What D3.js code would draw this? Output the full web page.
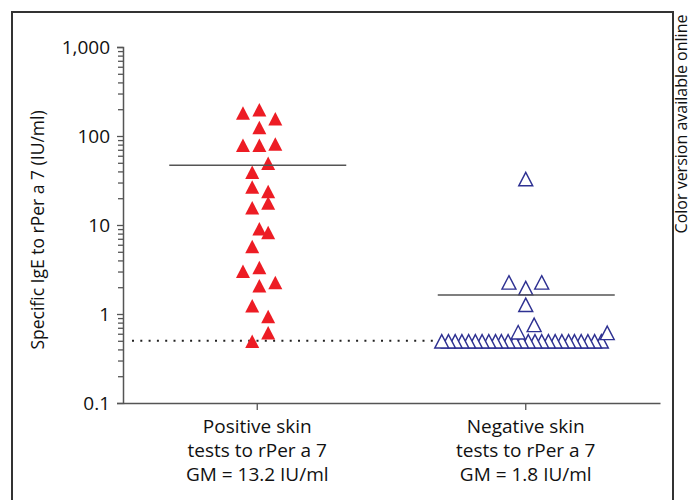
<!DOCTYPE html>
<html>
<head>
<meta charset="utf-8">
<script src="https://cdn.jsdelivr.net/npm/d3@7"></script>
<style>
  body { margin: 0; background: #fff; }
  svg text { font-family: "Open Sans", "Noto Sans", sans-serif; fill: #111; }
</style>
</head>
<body>
<div id="chart"></div>
<script>
var width = 691, height = 500;

// groups on the x axis, with their label lines
var categories = ["pos", "neg"];
var catLabels = {
    pos: ["Positive skin", "tests to rPer a 7", "GM = 13.2 IU/ml"],
    neg: ["Negative skin", "tests to rPer a 7", "GM = 1.8 IU/ml"]
};

// specific IgE (IU/ml), with a jitter slot for each point
var posValues = [180, 196, 155, 124, 78, 78, 81, 49, 39, 26.5, 23.7, 17.5, 15.5, 9.0, 8.2, 5.7, 3.0, 3.3, 2.06, 2.25, 1.23, 0.93, 0.61, 0.49];
var posJitter = [-1.7, 0.25, 2.15, 0.25, -1.7, 0.25, 2.15, 1.3, -0.6, -0.6, 1.3, 1.3, -0.6, 0.25, 1.3, -0.6, -1.7, 0.25, 0.25, 2.15, -0.6, 1.3, 1.3, -0.6];

var negValues = [32.6, 2.25, 2.25, 1.94, 1.26, 0.75, 0.62, 0.61,
    0.49, 0.49, 0.49, 0.49, 0.49, 0.49, 0.49, 0.49, 0.49, 0.49, 0.49, 0.49, 0.49,
    0.49, 0.49, 0.49, 0.49, 0.49, 0.49, 0.49, 0.49, 0.49, 0.49, 0.49, 0.49];
var negJitter = [0, -2.0, 1.9, 0, 0, 1.0, -0.9, 9.7,
    -10, -9.2, -8.4, -7.6, -6.8, -6, -5.2, -4.4, -3.6, -2.9, -2.1, -1.3, -0.5,
    0.3, 1.1, 1.9, 2.7, 3.5, 4.3, 5.1, 5.8, 6.6, 7.4, 8.2, 9.0];

// geometric mean lines as drawn, and the detection cut-off
var gmLines = [47, 1.63];
var cutoff = 0.5;

var yMajor = [0.1, 1, 10, 100, 1000];
var yTickLabels = ["0.1", "1", "10", "100", "1,000"];

var svg = d3.select("#chart").append("svg")
    .attr("width", width)
    .attr("height", height);

// frame round the figure
svg.append("path")
    .attr("d", "M12,500V12H673V500")
    .attr("fill", "none")
    .attr("stroke", "#333")
    .attr("stroke-width", 2);

var x = d3.scaleBand().domain(categories).range([123, 660]).padding(0);
var y = d3.scaleLog().domain([0.1, 1000]).range([403, 47]);
var jx = d3.scaleLinear().domain([-1, 1]).range([-8.4, 8.4]);
var cx = function(c) { return x(c) + x.bandwidth() / 2; };

var minor = [];
yMajor.slice(0, -1).forEach(function(d) {
    for (var k = 2; k < 10; k++) minor.push(d * k);
});

// y axis
var yAxis = svg.append("g")
    .attr("transform", "translate(123,0)")
    .call(d3.axisLeft(y).tickValues(yMajor).tickSize(6).tickPadding(7)
        .tickFormat(function(d, i) { return yTickLabels[i]; }));
yAxis.select(".domain").attr("stroke", "#555").attr("stroke-width", 1.5);
yAxis.selectAll(".tick line").attr("stroke", "#555").attr("stroke-width", 1.3);
yAxis.selectAll(".tick text").style("font-size", "19px").attr("fill", "#111");

var yMinor = svg.append("g")
    .attr("transform", "translate(123,0)")
    .call(d3.axisLeft(y).tickValues(minor).tickSize(5).tickFormat(""));
yMinor.select(".domain").remove();
yMinor.selectAll(".tick line").attr("stroke", "#555").attr("stroke-width", 1.3);

// x axis
var xAxis = svg.append("g")
    .attr("transform", "translate(0,403)")
    .call(d3.axisBottom(x).tickSize(7).tickSizeOuter(0).tickFormat(""));
xAxis.select(".domain").attr("stroke", "#555").attr("stroke-width", 1.5);
xAxis.selectAll(".tick line").attr("stroke", "#555").attr("stroke-width", 1.3);

categories.forEach(function(c) {
    var t = svg.append("text")
        .attr("text-anchor", "middle")
        .style("font-size", "19px");
    catLabels[c].forEach(function(line, i) {
        t.append("tspan").attr("x", cx(c)).attr("y", 433 + i * 24).text(line);
    });
});

svg.append("text")
    .attr("transform", "translate(44,230) rotate(-90)")
    .attr("text-anchor", "middle")
    .style("font-size", "17.5px")
    .text("Specific IgE to rPer a 7 (IU/ml)");

svg.append("text")
    .attr("transform", "translate(686.5,124) rotate(-90)")
    .attr("text-anchor", "middle")
    .style("font-size", "16px")
    .text("Color version available online");

// detection limit
svg.append("line")
    .attr("x1", 132).attr("x2", 604)
    .attr("y1", y(cutoff)).attr("y2", y(cutoff))
    .attr("stroke", "#222")
    .attr("stroke-width", 2)
    .attr("stroke-dasharray", "2,6.3");

var tri = "M0,-7L7,6.5L-7,6.5Z";

var pos = posValues.map(function(v, i) { return { v: v, j: posJitter[i] }; });
var neg = negValues.map(function(v, i) { return { v: v, j: negJitter[i] }; });

svg.selectAll(".pos")
    .data(pos)
    .enter().append("path")
    .attr("class", "pos")
    .attr("d", tri)
    .attr("fill", "#ed1c24")
    .attr("transform", function(d) { return "translate(" + (cx("pos") + jx(d.j)) + "," + y(d.v) + ")"; });

svg.selectAll(".neg")
    .data(neg.slice().reverse())
    .enter().append("path")
    .attr("class", "neg")
    .attr("d", tri)
    .attr("fill", "#fff")
    .attr("stroke", "#2e3192")
    .attr("stroke-width", 1.4)
    .attr("transform", function(d) { return "translate(" + (cx("neg") + jx(d.j)) + "," + y(d.v) + ")"; });

// GM lines
svg.selectAll(".gm")
    .data(gmLines)
    .enter().append("line")
    .attr("class", "gm")
    .attr("x1", function(d, i) { return cx(categories[i]) - 88; })
    .attr("x2", function(d, i) { return cx(categories[i]) + 89; })
    .attr("y1", function(d) { return y(d); })
    .attr("y2", function(d) { return y(d); })
    .attr("stroke", "#555")
    .attr("stroke-width", 1.5);
</script>
</body>
</html>
